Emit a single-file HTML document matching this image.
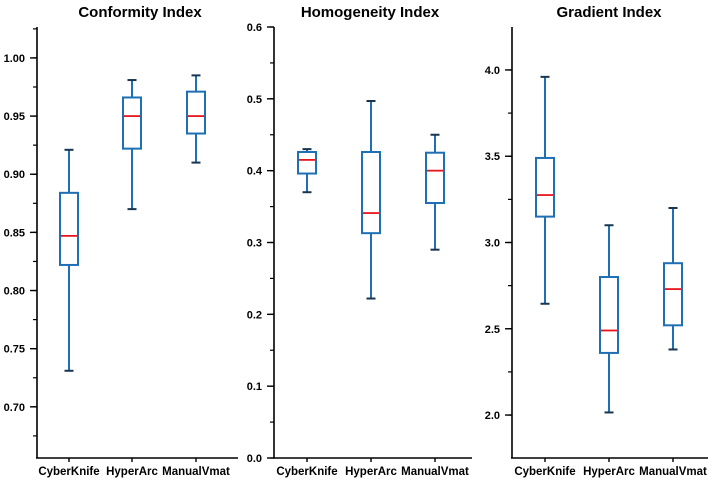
<!DOCTYPE html>
<html><head><meta charset="utf-8"><style>
html,body{margin:0;padding:0;background:#fff;}
svg{display:block;font-family:"Liberation Sans",Arial,sans-serif;}
</style></head><body>
<svg id="c" width="708" height="484" viewBox="0 0 708 484"></svg>
<script>
const categories = ["CyberKnife","HyperArc","ManualVmat"];
const titles = ["Conformity Index","Homogeneity Index","Gradient Index"];
// [whiskerHigh, Q3, median, Q1, whiskerLow]
const ciValues = [[0.921,0.884,0.847,0.822,0.731],[0.981,0.966,0.950,0.922,0.870],[0.985,0.971,0.950,0.935,0.910]];
const hiValues = [[0.430,0.426,0.415,0.396,0.370],[0.497,0.426,0.341,0.313,0.222],[0.450,0.425,0.400,0.355,0.290]];
const giValues = [[3.96,3.49,3.275,3.15,2.645],[3.10,2.80,2.49,2.36,2.015],[3.20,2.88,2.73,2.52,2.38]];
const ciTicks = ["0.70","0.75","0.80","0.85","0.90","0.95","1.00"];
const hiTicks = ["0.0","0.1","0.2","0.3","0.4","0.5","0.6"];
const giTicks = ["2.0","2.5","3.0","3.5","4.0"];

const NS="http://www.w3.org/2000/svg";
const svgEl=document.getElementById('c');
function mk(tag,attrs,parent){const e=document.createElementNS(NS,tag);for(const k in attrs)e.setAttribute(k,attrs[k]);(parent||svgEl).appendChild(e);return e;}

const panels=[
 {vals:ciValues,ticks:ciTicks,minor:0.025,ax:37,xEnd:238,ymin:0.6560,ymax:1.0266,cats:[69,132,196],tx:140},
 {vals:hiValues,ticks:hiTicks,minor:0.05,ax:274,xEnd:472,ymin:0,ymax:0.6,cats:[307,371,435],tx:370},
 {vals:giValues,ticks:giTicks,minor:0.25,ax:512,xEnd:708,ymin:1.751,ymax:4.249,cats:[545,609,673],tx:609}
];
const plotTop=27,plotBot=458;
panels.forEach((p,pi)=>{
  const g=mk('g',{});
  
  
  const y=v=>plotBot-(v-p.ymin)/(p.ymax-p.ymin)*(plotBot-plotTop);
  const t=mk('text',{x:p.tx,y:17,'text-anchor':'middle','font-size':15,'font-weight':'bold',fill:'#000'},g);
  t.textContent=titles[pi];
  
  
  const axY=mk('line',{x1:p.ax,y1:plotTop,x2:p.ax,y2:plotBot,stroke:'#000','stroke-width':1.6},g);
  
  
  const axX=mk('line',{x1:p.ax-1,y1:plotBot,x2:p.xEnd,y2:plotBot,stroke:'#000','stroke-width':1.6},g);
  
  
  for(let v=Math.ceil(p.ymin/p.minor-1e-6)*p.minor; v<=p.ymax+1e-9; v+=p.minor){
    const yy=y(v);
    const m=mk('line',{x1:p.ax-4,y1:yy,x2:p.ax,y2:yy,stroke:'#000','stroke-width':1.2},g);
    
    
  }
  p.ticks.forEach(s=>{
    const v=parseFloat(s),yy=y(v);
    const l=mk('line',{x1:p.ax-7,y1:yy,x2:p.ax,y2:yy,stroke:'#000','stroke-width':1.4},g);
    
    
    const tx=mk('text',{x:p.ax-12,y:yy+4,'text-anchor':'end','font-size':11,'font-weight':'bold',fill:'#000'},g);
    tx.textContent=s;
    
    
  });
  categories.forEach((c,ci)=>{
    const cx=p.cats[ci];
    const l=mk('line',{x1:cx,y1:plotBot,x2:cx,y2:plotBot+4,stroke:'#000','stroke-width':1.4},g);
    
    
    const tx=mk('text',{x:cx,y:475,'text-anchor':'middle','font-size':11.5,'font-weight':'bold',fill:'#000'},g);
    tx.textContent=c;
    
    
    const [hi,q3,md,q1,lo]=p.vals[ci];
    const bg=mk('g',{},g);
    
    
    mk('line',{x1:cx,y1:y(hi),x2:cx,y2:y(q3),stroke:'#1f6fb5','stroke-width':2},bg);
    mk('line',{x1:cx,y1:y(q1),x2:cx,y2:y(lo),stroke:'#1f6fb5','stroke-width':2},bg);
    mk('line',{x1:cx-4.5,y1:y(hi),x2:cx+4.5,y2:y(hi),stroke:'#1a3550','stroke-width':2},bg);
    mk('line',{x1:cx-4.5,y1:y(lo),x2:cx+4.5,y2:y(lo),stroke:'#1a3550','stroke-width':2},bg);
    mk('rect',{x:cx-9,y:y(q3),width:18,height:y(q1)-y(q3),fill:'#fff',stroke:'#1f6fb5','stroke-width':2},bg);
    mk('line',{x1:cx-8,y1:y(md),x2:cx+8,y2:y(md),stroke:'#e8141c','stroke-width':1.8},bg);
  });
});
</script>
</body></html>
